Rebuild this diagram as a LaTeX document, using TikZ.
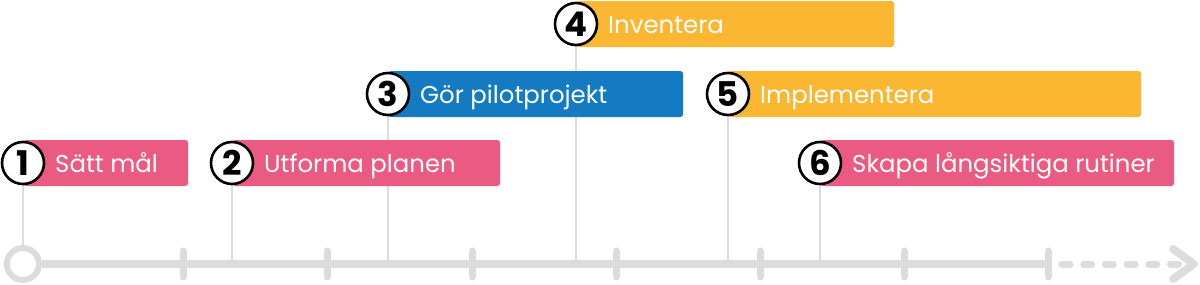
\documentclass[tikz,border=0pt]{standalone}
\usepackage{fontspec}
\setmainfont{Poppins}
\definecolor{pinkbar}{RGB}{235,90,130}
\definecolor{bluebar}{RGB}{20,122,194}
\definecolor{orangebar}{RGB}{251,183,50}
\definecolor{tlgray}{RGB}{220,220,220}
\begin{document}
\begin{tikzpicture}[x=1pt,y=-1pt,
  bar/.style={rectangle, rounded corners=3pt, minimum height=46pt, anchor=west, inner sep=0pt},
  num/.style={circle, draw=black, line width=2.6pt, fill=white, minimum size=42pt, inner sep=0pt,
    font=\fontsize{34}{34}\selectfont\bfseries},
  lbl/.style={anchor=base west, text=white, inner sep=0pt, font=\fontsize{24.4}{24.4}\selectfont},
  stem/.style={draw=tlgray, line width=1.6pt},
  tick/.style={draw=tlgray, line width=7pt, line cap=round},
  axis/.style={draw=tlgray, line width=7.5pt}]
\useasboundingbox (0,0) rectangle (1200,284);
% step anchor points
\coordinate (p1) at (23,163);
\coordinate (p2) at (232,163);
\coordinate (p3) at (388,94);
\coordinate (p4) at (576,24);
\coordinate (p5) at (728,94);
\coordinate (p6) at (820,163);
% timeline
\node[circle, draw=tlgray, line width=6pt, fill=white, minimum size=32pt, inner sep=0pt] (start) at (23,264) {};
\coordinate (tend) at (1048,264);
\foreach \i/\x in {2/232,3/388,4/576,5/728,6/820}{
  \coordinate (s\i) at (\x,264);
}
% stems
\draw[stem] (p1) -- (start.north);
\foreach \i in {2,...,6}{ \draw[stem] (p\i) -- (s\i); }
\draw[axis] (start.east) -- (tend);
\foreach \i/\x in {1/183,2/327,3/472,4/616,5/760,6/904,7/1048}{
  \coordinate (k\i) at (\x,264);
  \draw[tick] ([yshift=-13pt]k\i) -- ([yshift=13pt]k\i);
}
\coordinate (dend) at (1190,264);
\draw[tlgray, line width=7pt, line cap=round, dash pattern=on 8pt off 13.7pt, dash phase=-4pt]
  ([xshift=10pt]tend) -- (dend);
\coordinate (arrA) at (1173,249);
\coordinate (arrB) at (1173,279);
\coordinate (arrT) at (1194,264);
\draw[tlgray, line width=8pt, line cap=round, line join=round] (arrA) -- (arrT) -- (arrB);
% bars
\node[bar, fill=pinkbar, minimum width=165pt] (b1) at (p1) {};
\node[bar, fill=pinkbar, minimum width=268pt] (b2) at (p2) {};
\node[bar, fill=bluebar, minimum width=295pt] (b3) at (p3) {};
\node[bar, fill=orangebar, minimum width=318pt] (b4) at (p4) {};
\node[bar, fill=orangebar, minimum width=413pt] (b5) at (p5) {};
\node[bar, fill=pinkbar, minimum width=354pt] (b6) at (p6) {};
% number circles
\node[num] (c1) at (p1) {1};
\node[num] (c2) at (p2) {2};
\node[num] (c3) at (p3) {3};
\node[num] (c4) at (p4) {4};
\node[num] (c5) at (p5) {5};
\node[num] (c6) at (p6) {6};
% labels
\node[lbl] (l1) at (55,172) {Sätt mål};
\node[lbl] (l2) at (264,172) {Utforma planen};
\node[lbl] (l3) at (420,103) {Gör pilotprojekt};
\node[lbl] (l4) at (608,33) {Inventera};
\node[lbl] (l5) at (760,103) {Implementera};
\node[lbl] (l6) at (852,172) {Skapa långsiktiga rutiner};
\end{tikzpicture}
\end{document}
